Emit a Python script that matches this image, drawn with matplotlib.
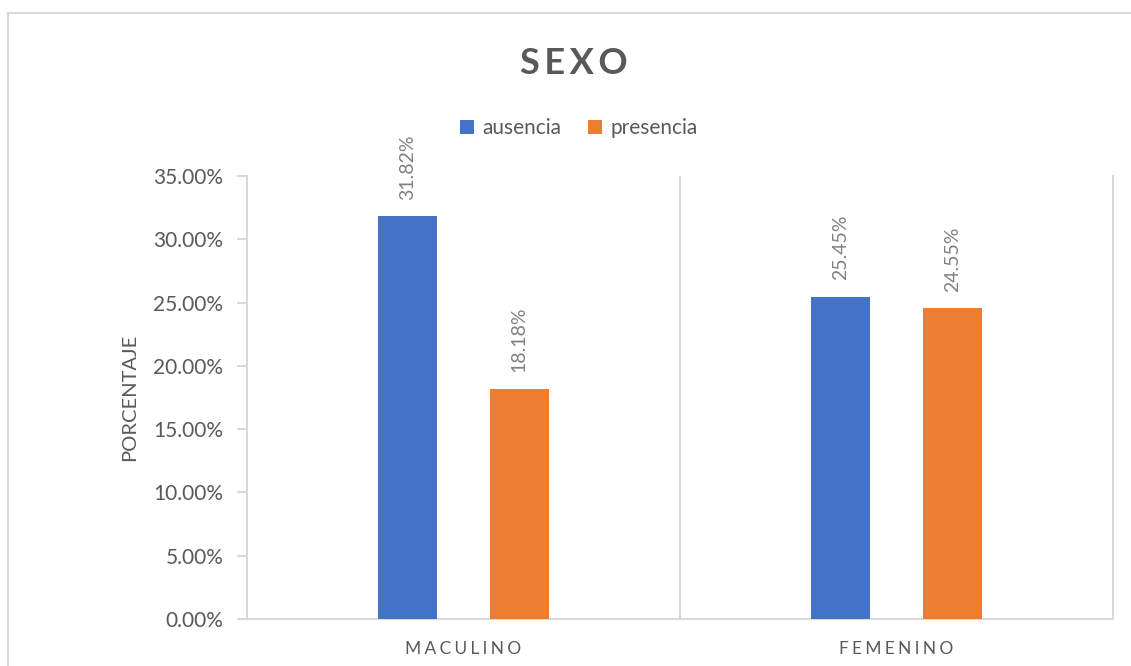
import matplotlib
matplotlib.use("Agg")
import matplotlib.pyplot as plt
import numpy as np
from matplotlib.patches import Rectangle
from matplotlib.ticker import FuncFormatter

plt.rcParams["font.family"] = ["Lato", "DejaVu Sans"]

categories = ["MACULINO", "FEMENINO"]
series = ["ausencia", "presencia"]
ausencia = [31.82, 25.45]
presencia = [18.18, 24.55]
colors = ["#4472C4", "#ED7D31"]

TXT = "#595959"
LBL = "#808080"
GRID = "#D9D9D9"


def spaced(s, sep="\u2009"):
    return sep.join(s)


fig = plt.figure(figsize=(11.31, 6.66), dpi=100)
# outer chart border
fig.patches.append(Rectangle((8 / 1131, -0.1), 1.2, 1 - 13 / 666 + 0.1,
                             transform=fig.transFigure, fill=False,
                             edgecolor=GRID, linewidth=1.5))

ax = fig.add_axes([247 / 1131, 47 / 666, (1113 - 247) / 1131, (619 - 176) / 666])

x = np.arange(len(categories))
w = 0.136
off = 0.129
for vals, c, name, sgn in [(ausencia, colors[0], series[0], -1),
                           (presencia, colors[1], series[1], 1)]:
    bars = ax.bar(x + sgn * off, vals, width=w, color=c, label=name, zorder=3)
    for b, v in zip(bars, vals):
        ax.text(b.get_x() + b.get_width() / 2, v + 1.3, f"{v:.2f}%",
                rotation=90, ha="center", va="bottom", fontsize=14, color=LBL)

ax.set_xlim(-0.5, 1.5)
ax.set_ylim(0, 35)
ax.set_yticks(np.arange(0, 35.1, 5))
ax.yaxis.set_major_formatter(FuncFormatter(lambda v, p: f"{v:.2f}%"))
ax.tick_params(axis="y", colors=GRID, labelcolor=TXT, labelsize=15,
               length=7, width=1.5, pad=10)
ax.set_xticks(x)
ax.set_xticklabels([spaced(c, "\u2009\u200a") for c in categories],
                   fontsize=12.5, color=TXT)
ax.tick_params(axis="x", length=0, pad=16)

for s in ["left", "right", "bottom"]:
    ax.spines[s].set_color(GRID)
    ax.spines[s].set_linewidth(1.5)
ax.spines["top"].set_visible(False)
ax.axvline(0.5, color=GRID, linewidth=1.5, zorder=1)

ax.set_ylabel("PORCENTAJE", fontsize=14.5, color=TXT, labelpad=11)

fig.text(574 / 1131, 1 - 63 / 666, spaced("SEXO", "\u200a\u200a"),
         ha="center", va="center", fontsize=26, fontweight="bold", color=TXT)

fig.legend(loc="center", bbox_to_anchor=(579 / 1131, 1 - 128 / 666), ncol=2,
           frameon=False, fontsize=15, handlelength=0.65, handleheight=0.65,
           handletextpad=0.4, columnspacing=1.3, labelcolor=TXT)

fig.savefig("out.png", dpi=100)
